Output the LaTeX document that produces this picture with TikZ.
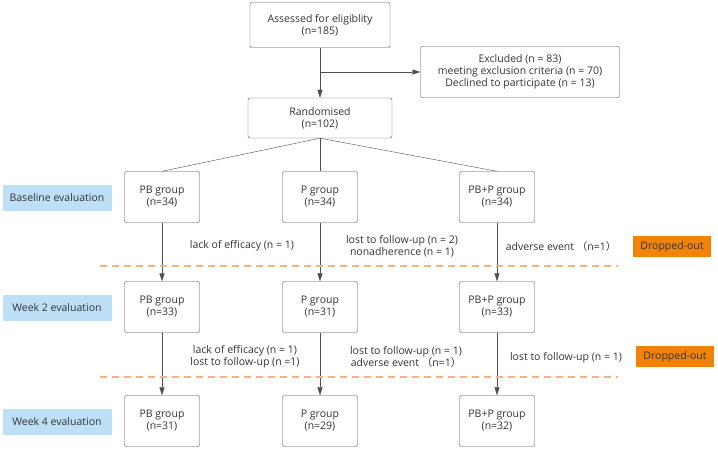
\documentclass[tikz,border=0pt]{standalone}
\usepackage{fontspec}
\setmainfont{Open Sans}
\newfontfamily\cjk{Noto Sans CJK SC}
\usetikzlibrary{arrows.meta}
\definecolor{txt}{HTML}{333333}
\definecolor{boxgray}{HTML}{4D4D4D}
\definecolor{stageblue}{HTML}{BDDFF7}
\definecolor{droporange}{HTML}{F08308}
\definecolor{dashorange}{HTML}{F5B57A}
\begin{document}
\begin{tikzpicture}[x=1pt, y=1pt,
  every node/.style={font=\fontsize{10.5}{12}\selectfont, text=txt, align=center},
  box/.style={draw=boxgray, rounded corners=2pt, minimum width=75pt, minimum height=51pt, inner sep=0pt},
  stage/.style={fill=stageblue, minimum width=109pt, minimum height=26pt, inner sep=0pt},
  drop/.style={fill=droporange, minimum width=78pt, minimum height=21pt, inner sep=0pt},
  arr/.style={draw=boxgray, -{Triangle[length=8pt,width=5pt]}},
  cut/.style={draw=dashorange, line width=1.2pt, dash pattern=on 7pt off 5pt}]
  \useasboundingbox (0,0) rectangle (718,450);

  % screening
  \node[box, minimum width=140pt, minimum height=45pt] (assess) at (320,425) {Assessed for eligiblity\\(n=185)};
  \node[box, minimum width=199pt, minimum height=51pt] (excl) at (520,378) {Excluded (n = 83)\\meeting exclusion criteria (n = 70)\\Declined to participate (n = 13)};
  \node[box, minimum width=144pt, minimum height=40pt] (rand) at (320,332) {Randomised\\(n=102)};
  \coordinate (split) at (320,378);
  \draw[arr] (assess) -- (rand);
  \draw[arr] (split) -- (excl);

  % stages
  \node[stage] (base) at (57,252) {Baseline evaluation};
  \node[stage] (wk2) at (57,142) {Week 2 evaluation};
  \node[stage] (wk4) at (57,28) {Week 4 evaluation};

  % groups
  \node[box] (pb1) at (162,253) {PB group\\(n=34)};
  \node[box] (p1) at (320,253) {P group\\(n=34)};
  \node[box] (pbp1) at (497,253) {PB+P group\\(n=34)};
  \node[box] (pb2) at (162,143) {PB group\\(n=33)};
  \node[box] (p2) at (320,143) {P group\\(n=31)};
  \node[box] (pbp2) at (497,143) {PB+P group\\(n=33)};
  \node[box] (pb3) at (162,29) {PB group\\(n=31)};
  \node[box] (p3) at (320,29) {P group\\(n=29)};
  \node[box] (pbp3) at (497,29) {PB+P group\\(n=32)};

  \draw[boxgray] (rand.south) -- (pb1.north);
  \draw[boxgray] (rand.south) -- (p1.north);
  \draw[boxgray] (rand.south) -- (pbp1.north);
  \foreach \g in {pb,p,pbp} {
    \draw[arr] (\g1) -- (\g2);
    \draw[arr] (\g2) -- (\g3);
  }

  % drop-outs
  \node (why1a) at (242,204) {lack of efficacy (n = 1)};
  \node (why1b) at (402,204) {lost to follow-up (n = 2)\\nonadherence (n = 1)};
  \node (why1c) at (561,203) {adverse event {\cjk （}n=1{\cjk ）}};
  \node (why2a) at (245,93) {lack of efficacy (n = 1)\\lost to follow-up (n =1)};
  \node (why2b) at (406,93) {lost to follow-up (n = 1)\\adverse event {\cjk （}n=1{\cjk ）}};
  \node (why2c) at (566,92) {lost to follow-up (n = 1)};
  \node[drop] (drop1) at (672,203) {Dropped-out};
  \node[drop] (drop2) at (675,93) {Dropped-out};

  \draw[cut] (100,184) -- (618,184);
  \draw[cut] (100,73) -- (618,73);
\end{tikzpicture}
\end{document}
